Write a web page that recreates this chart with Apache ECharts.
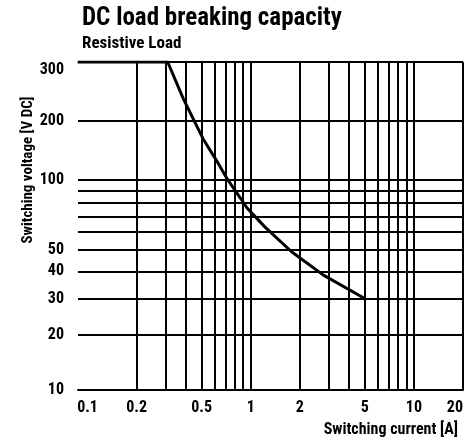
<!DOCTYPE html>
<html>
<head>
<meta charset="utf-8">
<script src="https://cdn.jsdelivr.net/npm/echarts@6/dist/echarts.min.js"></script>
<style>
  html, body { margin: 0; padding: 0; background: #fff; }
  #chart { width: 468px; height: 444px; }
</style>
</head>
<body>
<div id="chart"></div>
<script>
// curve: switching current [A] -> max voltage [V DC]
var currentA = [0.087, 0.31, 0.386, 0.51, 0.62, 0.713, 0.95, 1.22, 1.78, 2.79, 5];
var voltageV = [300, 300, 238, 170, 132, 103, 76, 63, 49, 38.5, 30];

// grid lines and tick labels
var xGridValues = [0.2, 0.3, 0.4, 0.5, 0.6, 0.7, 0.8, 0.9, 1, 2, 3, 4, 5, 6, 7, 8, 9, 10, 20];
var xLabelValues = [0.1, 0.2, 0.5, 1, 2, 5, 10, 20];
var yGridValues = [20, 30, 40, 50, 60, 70, 80, 90, 100, 200, 300];
var yLabelValues = [10, 20, 30, 40, 50, 100, 200, 300];
var xMin = 0.0874, xMax = 20;
var yMin = 10, yMax = 300;

var FONT = '"Roboto Condensed", "DejaVu Sans Condensed", sans-serif';

// current axis is plain log10
function xPos(a) {
    return Math.log10(a);
}
// voltage axis on the sheet is hand drawn: log-like up to 100 V, linear above
function yPos(v) {
    return v <= 100 ? Math.log10(v + 5) : Math.log10(105) + (v - 100) * 0.002374;
}
// turn an axis position back into its tick text
function labelFor(list, fn) {
    return function (val) {
        for (var i = 0; i < list.length; i++) {
            if (Math.abs(fn(list[i]) - val) < 1e-6) return String(list[i]);
        }
        return '';
    };
}

var lineData = [];
for (var i = 0; i < currentA.length; i++) {
    lineData.push([xPos(currentA[i]), yPos(voltageV[i])]);
}

var myChart = echarts.init(document.getElementById('chart'));
var option = {
    animation: false,
    title: {
        text: 'DC load breaking capacity',
        subtext: 'Resistive Load',
        left: 77,
        top: 1,
        itemGap: 4,
        textStyle: {
            fontFamily: FONT,
            fontSize: 25,
            fontWeight: 'bold',
            color: '#000'
        },
        subtextStyle: {
            fontFamily: FONT,
            fontSize: 17,
            fontWeight: 'bold',
            color: '#000'
        }
    },
    grid: {
        left: 78,
        right: 5,
        top: 62,
        bottom: 54
    },
    xAxis: {
        type: 'value',
        min: xPos(xMin),
        max: xPos(xMax),
        name: 'Switching current [A]',
        nameLocation: 'end',
        nameGap: 0,
        nameMoveOverlap: false,
        nameTextStyle: {
            fontFamily: FONT,
            fontSize: 16,
            fontWeight: 'bold',
            color: '#000',
            align: 'right',
            verticalAlign: 'top',
            padding: [32, 5, 0, 0]
        },
        axisLine: { lineStyle: { color: '#000', width: 2 } },
        axisTick: { show: false, customValues: xGridValues.map(xPos) },
        splitLine: { show: true, lineStyle: { color: '#000', width: 2 } },
        axisLabel: {
            customValues: xLabelValues.map(xPos),
            formatter: labelFor(xLabelValues, xPos),
            alignMaxLabel: 'right',
            margin: 10,
            color: '#000',
            fontFamily: FONT,
            fontSize: 16,
            fontWeight: 'bold'
        }
    },
    yAxis: {
        type: 'value',
        min: yPos(yMin),
        max: yPos(yMax),
        name: 'Switching voltage [V DC]',
        nameLocation: 'middle',
        nameRotate: 90,
        nameGap: 50,
        nameMoveOverlap: false,
        nameTextStyle: {
            fontFamily: FONT,
            fontSize: 15,
            fontWeight: 'bold',
            color: '#000',
            verticalAlign: 'middle',
            padding: [0, 0, 0, 112]
        },
        axisLine: { show: true, lineStyle: { color: '#000', width: 2 } },
        axisTick: { show: false, customValues: yGridValues.map(yPos) },
        splitLine: { show: true, lineStyle: { color: '#000', width: 2 } },
        axisLabel: {
            customValues: yLabelValues.map(yPos),
            formatter: labelFor(yLabelValues, yPos),
            verticalAlignMaxLabel: 'top',
            margin: 14,
            color: '#000',
            fontFamily: FONT,
            fontSize: 16,
            fontWeight: 'bold'
        }
    },
    series: [
        {
            type: 'line',
            data: lineData,
            showSymbol: false,
            z: 5,
            lineStyle: { color: '#000', width: 3 }
        }
    ]
};
myChart.setOption(option);
window.addEventListener('resize', function () {
    myChart.resize();
});
</script>
</body>
</html>
